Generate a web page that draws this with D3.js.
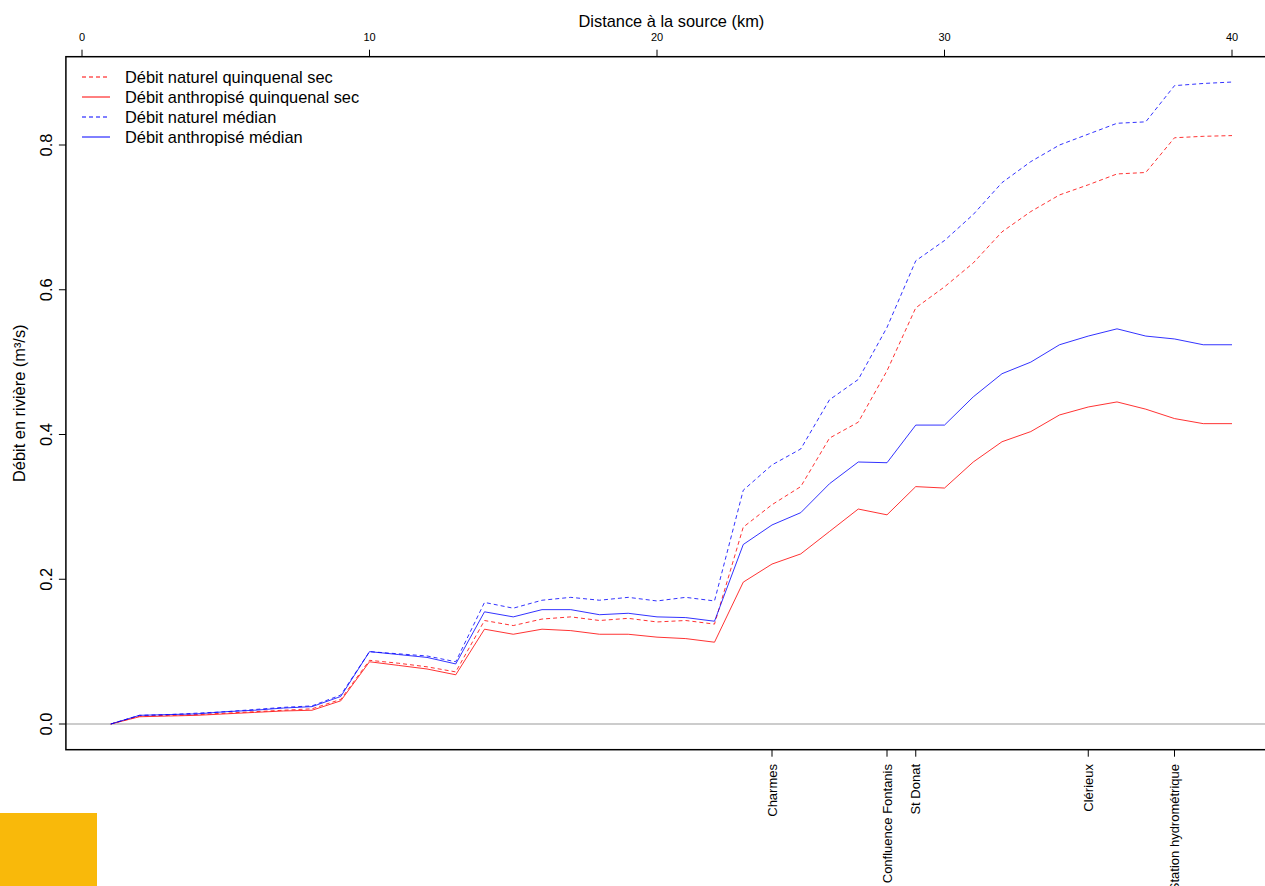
<!DOCTYPE html>
<html>
<head>
<meta charset="utf-8">
<script src="https://cdn.jsdelivr.net/npm/d3@7"></script>
<style>
  body { margin: 0; background: #fff; }
  svg { display: block; font-family: "Liberation Sans", Arial, sans-serif; }
</style>
</head>
<body>
<svg id="chart" width="1265" height="886"></svg>
<script>
// distance à la source (km), one point per km
const km = d3.range(1, 41);

const naturelQuinq = [0, 0.011, 0.012, 0.013, 0.015, 0.017, 0.019, 0.021, 0.034, 0.088,
  0.084, 0.079, 0.072, 0.143, 0.136, 0.145, 0.148, 0.143, 0.146, 0.141,
  0.143, 0.138, 0.272, 0.303, 0.328, 0.395, 0.417, 0.488, 0.575, 0.604,
  0.637, 0.680, 0.708, 0.731, 0.745, 0.760, 0.762, 0.810, 0.812, 0.813];
const anthropQuinq = [0, 0.010, 0.011, 0.012, 0.014, 0.016, 0.018, 0.019, 0.032, 0.086,
  0.081, 0.076, 0.068, 0.131, 0.124, 0.131, 0.129, 0.124, 0.124, 0.120,
  0.118, 0.113, 0.196, 0.221, 0.235, 0.266, 0.297, 0.289, 0.328, 0.326,
  0.362, 0.390, 0.404, 0.427, 0.438, 0.445, 0.435, 0.422, 0.415, 0.415];
const naturelMedian = [0, 0.012, 0.013, 0.015, 0.017, 0.020, 0.023, 0.025, 0.040, 0.100,
  0.097, 0.094, 0.086, 0.168, 0.160, 0.171, 0.175, 0.171, 0.175, 0.170,
  0.175, 0.170, 0.323, 0.358, 0.380, 0.448, 0.476, 0.548, 0.640, 0.668,
  0.704, 0.748, 0.777, 0.800, 0.815, 0.830, 0.832, 0.882, 0.885, 0.887];
const anthropMedian = [0, 0.012, 0.013, 0.014, 0.017, 0.019, 0.022, 0.024, 0.038, 0.100,
  0.096, 0.092, 0.083, 0.155, 0.148, 0.158, 0.158, 0.151, 0.153, 0.148,
  0.147, 0.142, 0.248, 0.275, 0.292, 0.332, 0.362, 0.361, 0.413, 0.413,
  0.452, 0.484, 0.500, 0.524, 0.536, 0.546, 0.536, 0.532, 0.524, 0.524];

const topTicks = [0, 10, 20, 30, 40];
const yTicks = [0, 0.2, 0.4, 0.6, 0.8];
const lieuxKm = [24, 28, 29, 35, 38];
const lieuxNoms = ["Charmes", "Confluence Fontanis", "St Donat", "Clérieux", "Station hydrométrique"];

const series = [
  { nom: "Débit naturel quinquenal sec", values: naturelQuinq, color: "#ff0000", dash: "4,3" },
  { nom: "Débit anthropisé quinquenal sec", values: anthropQuinq, color: "#ff0000", dash: null },
  { nom: "Débit naturel médian", values: naturelMedian, color: "#0000ff", dash: "4,3" },
  { nom: "Débit anthropisé médian", values: anthropMedian, color: "#0000ff", dash: null }
];

const svg = d3.select("#chart");

const x = d3.scaleLinear().domain([0, 40]).range([82, 1232]);
const y = d3.scaleLinear().domain([0, 0.8]).range([724, 145]);

// plot region (R style 4% extension)
const x0 = x(-0.56), x1 = x(41.56);
const yTop = y(0.922), yBot = y(-0.0355);

// horizontal line at 0
svg.append("line")
  .attr("x1", x0).attr("x2", x1)
  .attr("y1", y(0)).attr("y2", y(0))
  .attr("stroke", "#999").attr("stroke-width", 1);

const line = d3.line()
  .x((d, i) => x(km[i]))
  .y(d => y(d));

series.forEach(s => {
  svg.append("path")
    .datum(s.values)
    .attr("d", line)
    .attr("fill", "none")
    .attr("stroke", s.color)
    .attr("stroke-width", 1)
    .attr("stroke-opacity", 0.8)
    .attr("stroke-dasharray", s.dash);
});

// box
svg.append("rect")
  .attr("x", x0).attr("y", yTop)
  .attr("width", x1 - x0).attr("height", yBot - yTop)
  .attr("fill", "none").attr("stroke", "#000").attr("stroke-width", 1.5);

// top axis
const topAxis = svg.append("g");
topAxis.selectAll("line").data(topTicks).join("line")
  .attr("x1", d => x(d)).attr("x2", d => x(d))
  .attr("y1", yTop).attr("y2", yTop - 7)
  .attr("stroke", "#000");
topAxis.selectAll("text").data(topTicks).join("text")
  .attr("x", d => x(d)).attr("y", 41)
  .attr("text-anchor", "middle")
  .attr("font-size", 11)
  .text(d => d);
svg.append("text")
  .attr("x", (x0 + x1) / 2).attr("y", 27)
  .attr("text-anchor", "middle")
  .attr("font-size", 16.4)
  .text("Distance à la source (km)");

// left axis
const leftAxis = svg.append("g");
leftAxis.selectAll("line").data(yTicks).join("line")
  .attr("x1", x0).attr("x2", x0 - 7)
  .attr("y1", d => y(d)).attr("y2", d => y(d))
  .attr("stroke", "#000");
leftAxis.selectAll("text").data(yTicks).join("text")
  .attr("transform", d => `translate(52,${y(d)}) rotate(-90)`)
  .attr("text-anchor", "middle")
  .attr("font-size", 16.4)
  .text(d => d.toFixed(1));
svg.append("text")
  .attr("transform", `translate(25,${(yTop + yBot) / 2}) rotate(-90)`)
  .attr("text-anchor", "middle")
  .attr("font-size", 16.4)
  .text("Débit en rivière (m³/s)");

// bottom axis: named places
const bottomAxis = svg.append("g");
bottomAxis.selectAll("line").data(lieuxKm).join("line")
  .attr("x1", d => x(d)).attr("x2", d => x(d))
  .attr("y1", yBot).attr("y2", yBot + 7)
  .attr("stroke", "#000");
bottomAxis.selectAll("text").data(lieuxKm).join("text")
  .attr("transform", d => `translate(${x(d) + 4.5},764) rotate(-90)`)
  .attr("text-anchor", "end")
  .attr("font-size", 13)
  .text((d, i) => lieuxNoms[i]);

// legend
const legend = svg.append("g");
series.forEach((s, i) => {
  const ly = 77 + i * 20;
  legend.append("line")
    .attr("x1", 82).attr("x2", 110)
    .attr("y1", ly).attr("y2", ly)
    .attr("stroke", s.color).attr("stroke-width", 1)
    .attr("stroke-dasharray", s.dash);
  legend.append("text")
    .attr("x", 125).attr("y", ly + 5.5)
    .attr("font-size", 16.4)
    .text(s.nom);
});

// yellow corner block
svg.append("rect")
  .attr("x", 0).attr("y", 813)
  .attr("width", 97).attr("height", 73)
  .attr("fill", "#f9b90a");
</script>
</body>
</html>
